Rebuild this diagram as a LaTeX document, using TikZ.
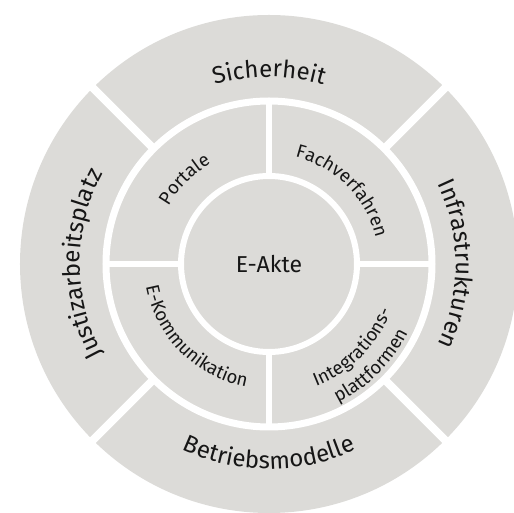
\documentclass[tikz,border=0pt]{standalone}
\usepackage{fontspec}
\setmainfont{Fira Sans}
\usepackage{xcolor}
\usetikzlibrary{decorations.text}

\definecolor{ringgray}{RGB}{220,219,216}
\definecolor{ink}{RGB}{22,22,22}
\newcommand{\outerfont}{\fontsize{24}{29}\selectfont}
\newcommand{\innerfont}{\fontsize{18.5}{22}\selectfont}
\newcommand{\corefont}{\fontsize{23}{28}\selectfont}

\begin{document}
\begin{tikzpicture}[
    x=1pt, y=1pt,
    gap/.style={draw=white, line width=#1}, % white separators
    arclabel/.style={decorate, decoration={text along path, text align=center, text color=ink, text={#1}}}
]
\useasboundingbox (-269,-249) rectangle (245,264);
\clip (-269,-249) rectangle (245,264);

% disc and separators
\fill[ringgray] (0,0) circle (249pt);
\draw[gap=7pt] (0,0) circle (163pt);
\draw[gap=6pt] (0,0) circle (88pt);
\foreach \a in {45,135,225,315}
    \draw[gap=8pt] (\a:163pt) -- (\a:260pt);
\foreach \a in {0,90,180,270}
    \draw[gap=6pt] (\a:88pt) -- (\a:163pt);

% centre
\node[font=\corefont, text=ink] (core) at (0,0) {E-Akte};

% outer ring
\path[arclabel={|\outerfont|Sicherheit}] (135:187pt) arc[start angle=135, end angle=45, radius=187pt];
\path[arclabel={|\outerfont|Infrastrukturen}] (45:187pt) arc[start angle=45, end angle=-45, radius=187pt];
\path[arclabel={|\outerfont|Justizarbeitsplatz}] (225:189pt) arc[start angle=225, end angle=135, radius=189pt];
\path[arclabel={|\outerfont|Betriebsmodelle}] (225:205pt) arc[start angle=225, end angle=315, radius=205pt];

% middle ring
\path[arclabel={|\innerfont|Portale}] (180:116pt) arc[start angle=180, end angle=90, radius=116pt];
\path[arclabel={|\innerfont|Fachverfahren}] (90:110pt) arc[start angle=90, end angle=0, radius=110pt];
\path[arclabel={|\innerfont|E-Kommunikation}] (180:125pt) arc[start angle=180, end angle=270, radius=125pt];
\path[arclabel={|\innerfont|Integrations-}] (270:131pt) arc[start angle=270, end angle=360, radius=131pt];
\path[arclabel={|\innerfont|plattformen}] (270:155pt) arc[start angle=270, end angle=360, radius=155pt];

\end{tikzpicture}
\end{document}
